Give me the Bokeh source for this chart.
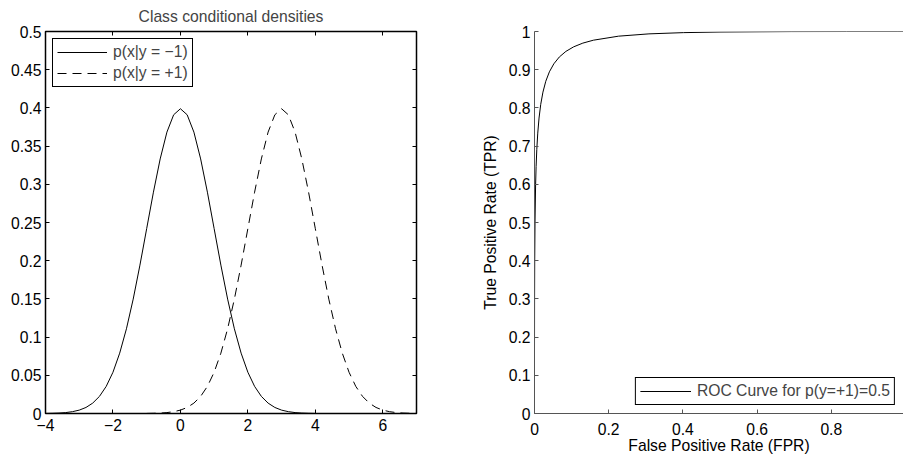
from bokeh.plotting import figure
from bokeh.layouts import row
from bokeh.models import Range1d, FixedTicker, LinearAxis
from bokeh.embed import file_html
from bokeh.resources import INLINE

# ---------------- data ----------------
x_neg = [-4.0, -3.8, -3.6, -3.4, -3.2, -3.0, -2.8, -2.6, -2.4, -2.2, -2.0,
         -1.8, -1.6, -1.4, -1.2, -1.0, -0.8, -0.6, -0.4, -0.2, 0.0,
         0.2, 0.4, 0.6, 0.8, 1.0, 1.2, 1.4, 1.6, 1.8, 2.0,
         2.2, 2.4, 2.6, 2.8, 3.0, 3.2, 3.4, 3.6, 3.8, 4.0]
dens_neg = [0.0001, 0.0003, 0.0006, 0.0012, 0.0024, 0.0044, 0.0079, 0.0136, 0.0224, 0.0355, 0.0540,
            0.0790, 0.1109, 0.1497, 0.1942, 0.2420, 0.2897, 0.3332, 0.3683, 0.3910, 0.3989,
            0.3910, 0.3683, 0.3332, 0.2897, 0.2420, 0.1942, 0.1497, 0.1109, 0.0790, 0.0540,
            0.0355, 0.0224, 0.0136, 0.0079, 0.0044, 0.0024, 0.0012, 0.0006, 0.0003, 0.0001]
x_pos = [-1.0, -0.8, -0.6, -0.4, -0.2, 0.0, 0.2, 0.4, 0.6, 0.8, 1.0,
         1.2, 1.4, 1.6, 1.8, 2.0, 2.2, 2.4, 2.6, 2.8, 3.0,
         3.2, 3.4, 3.6, 3.8, 4.0, 4.2, 4.4, 4.6, 4.8, 5.0,
         5.2, 5.4, 5.6, 5.8, 6.0, 6.2, 6.4, 6.6, 6.8, 7.0]
dens_pos = [0.0001, 0.0003, 0.0006, 0.0012, 0.0024, 0.0044, 0.0079, 0.0136, 0.0224, 0.0355, 0.0540,
            0.0790, 0.1109, 0.1497, 0.1942, 0.2420, 0.2897, 0.3332, 0.3683, 0.3910, 0.3989,
            0.3910, 0.3683, 0.3332, 0.2897, 0.2420, 0.1942, 0.1497, 0.1109, 0.0790, 0.0540,
            0.0355, 0.0224, 0.0136, 0.0079, 0.0044, 0.0024, 0.0012, 0.0006, 0.0003, 0.0001]

fpr = [0.0, 0.0000003, 0.0000034, 0.0000317, 0.000233, 0.000577, 0.00135, 0.00298,
       0.00433, 0.00621, 0.00877, 0.01222, 0.0168, 0.02275, 0.0304, 0.0401, 0.0521,
       0.0668, 0.0846, 0.1056, 0.1303, 0.1587, 0.2266, 0.3085, 0.4013, 0.5,
       0.6915, 0.8413, 0.97725, 1.0]
tpr = [0.0, 0.0228, 0.0668, 0.1587, 0.3085, 0.4013, 0.5, 0.5987,
       0.6462, 0.6915, 0.734, 0.7734, 0.8092, 0.8413, 0.8697, 0.8944, 0.9154,
       0.9332, 0.9479, 0.9599, 0.9696, 0.97725, 0.98778, 0.99379, 0.99702, 0.99865,
       0.999767, 0.999968, 1.0, 1.0]

left_xticks = [-4, -2, 0, 2, 4, 6]
left_xlabels = ["\u22124", "\u22122", "0", "2", "4", "6"]
left_yticks = [0, 0.05, 0.1, 0.15, 0.2, 0.25, 0.3, 0.35, 0.4, 0.45, 0.5]
left_ylabels = ["0", "0.05", "0.1", "0.15", "0.2", "0.25", "0.3", "0.35", "0.4", "0.45", "0.5"]
right_xticks = [0, 0.2, 0.4, 0.6, 0.8, 1]
right_xlabels = ["0", "0.2", "0.4", "0.6", "0.8", "1"]
right_yticks = [0, 0.1, 0.2, 0.3, 0.4, 0.5, 0.6, 0.7, 0.8, 0.9, 1]
right_ylabels = ["0", "0.1", "0.2", "0.3", "0.4", "0.5", "0.6", "0.7", "0.8", "0.9", "1"]

FONT = "Liberation Sans"
FS = "15.7px"


def style_axis(ax, ticks, labels, color="black"):
    ax.ticker = FixedTicker(ticks=ticks)
    ax.major_label_overrides = dict(zip(ticks, labels))
    ax.major_tick_in = 4
    ax.major_tick_out = 0
    ax.minor_tick_line_color = None
    ax.major_tick_line_color = color
    ax.axis_line_color = color
    ax.major_label_text_font = FONT
    ax.major_label_text_font_size = FS
    ax.major_label_text_color = "black"
    ax.axis_label_text_font = FONT
    ax.axis_label_text_font_size = FS
    ax.axis_label_text_font_style = "normal"
    ax.axis_label_text_color = "black"


# ---------------- left plot ----------------
p1 = figure(width=460, height=456, output_backend="svg", toolbar_location=None,
            x_range=Range1d(-4, 7), y_range=Range1d(0, 0.5),
            min_border_left=45, min_border_right=44, min_border_top=31, min_border_bottom=43,
            title="Class conditional densities")
p1.title.text_font = FONT
p1.title.text_font_size = FS
p1.title.text_font_style = "normal"
p1.title.align = "center"
p1.title.vertical_align = "top"
p1.title.standoff = 10
p1.xgrid.grid_line_color = None
p1.ygrid.grid_line_color = None
p1.outline_line_color = "black"
p1.outline_line_width = 1.5
p1.outline_line_alpha = 1

p1.line(x_neg, dens_neg, line_color="black", line_width=1, legend_label="p(x|y = \u22121)")
p1.line(x_pos, dens_pos, line_color="black", line_width=1, line_dash="9 6",
        legend_label="p(x|y = +1)")

style_axis(p1.xaxis[0], left_xticks, left_xlabels)
style_axis(p1.yaxis[0], left_yticks, left_ylabels)
p1.xaxis.major_label_standoff = 5
p1.yaxis.major_label_standoff = 4

top_ax = LinearAxis()
style_axis(top_ax, left_xticks, [""] * len(left_xticks))
top_ax.major_label_text_font_size = "0px"
top_ax.major_label_standoff = 0
p1.add_layout(top_ax, "above")
right_ax = LinearAxis()
style_axis(right_ax, left_yticks, [""] * len(left_yticks))
right_ax.major_label_text_font_size = "0px"
right_ax.major_label_standoff = 0
p1.add_layout(right_ax, "right")

lg = p1.legend[0]
lg.location = "top_left"
lg.margin = 7
lg.padding = 4
lg.spacing = 3
lg.glyph_width = 50
lg.glyph_height = 18
lg.label_height = 18
lg.label_standoff = 6
lg.label_text_font = FONT
lg.label_text_font_size = FS
lg.border_line_color = "black"
lg.border_line_width = 1
lg.border_line_alpha = 1
lg.background_fill_color = "white"
lg.background_fill_alpha = 1

# ---------------- right plot ----------------
p2 = figure(width=443, height=456, output_backend="svg", toolbar_location=None,
            x_range=Range1d(0, 0.9946), y_range=Range1d(0, 1),
            min_border_left=74, min_border_right=0, min_border_top=31, min_border_bottom=43)
p2.xgrid.grid_line_color = None
p2.ygrid.grid_line_color = None
p2.outline_line_color = None

p2.line(fpr, tpr, line_color="black", line_width=1, legend_label="ROC Curve for p(y=+1)=0.5")

style_axis(p2.xaxis[0], right_xticks, right_xlabels, color="#555555")
style_axis(p2.yaxis[0], right_yticks, right_ylabels, color="#555555")
p2.xaxis.axis_label = "False Positive Rate (FPR)"
p2.yaxis.axis_label = "True Positive Rate (TPR)"
p2.xaxis.major_label_standoff = 9
p2.xaxis.axis_label_standoff = -1
p2.yaxis.major_label_standoff = 4
p2.yaxis.axis_label_standoff = 7

lg2 = p2.legend[0]
lg2.location = "bottom_right"
lg2.margin = 8
lg2.padding = 4
lg2.glyph_width = 51
lg2.glyph_height = 18
lg2.label_height = 18
lg2.label_standoff = 6
lg2.label_text_font = FONT
lg2.label_text_font_size = FS
lg2.border_line_color = "black"
lg2.border_line_width = 1
lg2.border_line_alpha = 1
lg2.background_fill_color = "white"
lg2.background_fill_alpha = 1

layout = row(p1, p2)
open("out.html", "w").write(file_html(layout, INLINE))
